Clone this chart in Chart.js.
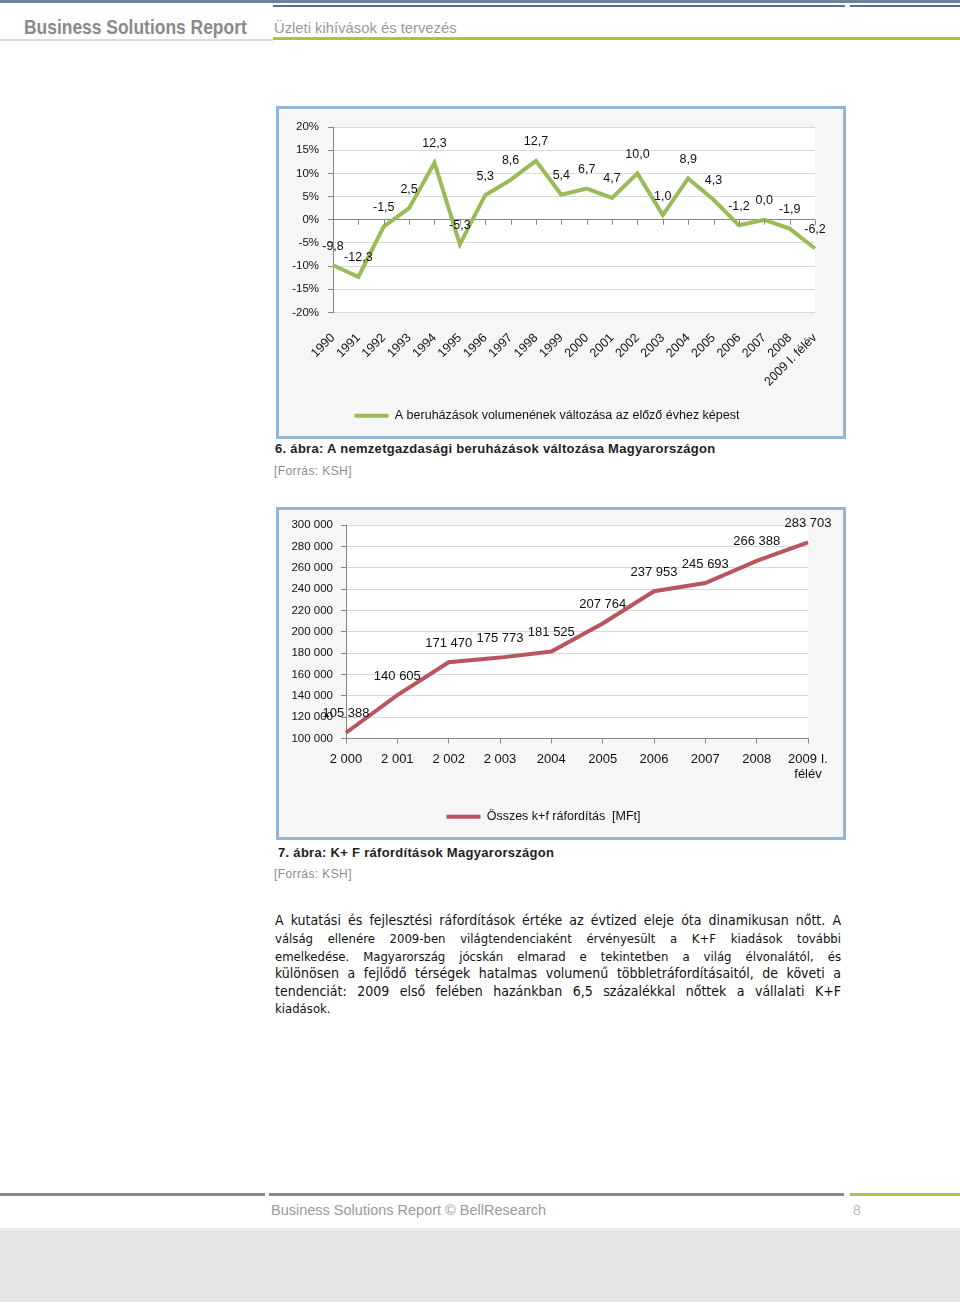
<!DOCTYPE html>
<html lang="hu">
<head>
<meta charset="utf-8">
<script src="https://cdn.jsdelivr.net/npm/chart.js"></script>
<style>
  html, body { margin: 0; padding: 0; }
  body { width: 960px; height: 1302px; position: relative; background: #fff; overflow: hidden;
         font-family: 'Liberation Sans', Arial, sans-serif; }
  .abs { position: absolute; white-space: nowrap; }
  .bar { position: absolute; }
  .box { position: absolute; left: 276px; width: 564px; height: 327px; border: 3px solid #95b5d2; background: #f6f6f6; }
  .box canvas { position: absolute; left: 0; top: 0; }
  .cap { font-weight: bold; font-size: 13px; color: #1e1e1e; letter-spacing: 0.3px; line-height: 18px; }
  .src { font-size: 12px; color: #8c8c8c; letter-spacing: 0.4px; line-height: 16px; }
  .pline { position: absolute; left: 275px; width: 566px; height: 18px; line-height: 18px;
           font-family: 'DejaVu Sans Condensed', 'DejaVu Sans', sans-serif; font-size: 13px; color: #111;
           text-align: justify; text-align-last: justify; white-space: nowrap; }
  .pline.last { text-align-last: left; }
</style>
</head>
<body>

<!-- header -->
<div class="bar" style="left:0;top:0;width:960px;height:3px;background:#6783a0"></div>
<div class="bar" style="left:273px;top:5px;width:572px;height:2px;background:#56728f"></div>
<div class="bar" style="left:850px;top:5px;width:110px;height:2px;background:#56728f"></div>
<div class="abs" style="left:24px;top:14px;font-weight:bold;font-size:21px;line-height:26px;color:#8a8a8a;transform:scaleX(0.83);transform-origin:0 50%">Business Solutions Report</div>
<div class="abs" style="left:274px;top:19px;font-size:14.8px;line-height:18px;color:#9a9a9a">Üzleti kihívások és tervezés</div>
<div class="bar" style="left:0;top:39px;width:273px;height:2px;background:#dcdcdc"></div>
<div class="bar" style="left:273px;top:37px;width:687px;height:3px;background:#a9c24e"></div>

<!-- chart 1 -->
<div class="box" style="top:106px"><canvas id="investChart" width="564" height="327"></canvas></div>
<div class="abs cap" style="left:275px;top:440px">6. ábra: A nemzetgazdasági beruházások változása Magyarországon</div>
<div class="abs src" style="left:274px;top:463px">[Forrás: KSH]</div>

<!-- chart 2 -->
<div class="box" style="top:507px"><canvas id="rdChart" width="564" height="327"></canvas></div>
<div class="abs cap" style="left:278px;top:844px">7. ábra: K+ F ráfordítások Magyarországon</div>
<div class="abs src" style="left:274px;top:866px">[Forrás: KSH]</div>

<!-- paragraph -->
<div class="pline" style="top:911px;font-size:14px">A kutatási és fejlesztési ráfordítások értéke az évtized eleje óta dinamikusan nőtt. A</div>
<div class="pline" style="top:930px">válság ellenére 2009-ben világtendenciaként érvényesült a K+F kiadások további</div>
<div class="pline" style="top:948px">emelkedése. Magyarország jócskán elmarad e tekintetben a világ élvonalától, és</div>
<div class="pline" style="top:964px;font-size:14px">különösen a fejlődő térségek hatalmas volumenű többletráfordításaitól, de követi a</div>
<div class="pline" style="top:982px;font-size:14px">tendenciát: 2009 első felében hazánkban 6,5 százalékkal nőttek a vállalati K+F</div>
<div class="pline last" style="top:1000px">kiadások.</div>

<!-- footer -->
<div class="bar" style="left:0;top:1193px;width:265px;height:3px;background:#8a8a8a"></div>
<div class="bar" style="left:269px;top:1193px;width:575px;height:3px;background:#8a8a8a"></div>
<div class="bar" style="left:850px;top:1193px;width:110px;height:3px;background:#a9c24e"></div>
<div class="abs" style="left:271px;top:1201px;font-size:14.5px;line-height:18px;color:#9a9a9a">Business Solutions Report © BellResearch</div>
<div class="abs" style="left:853px;top:1201px;font-size:14px;line-height:18px;color:#bcbcbc">8</div>
<div class="bar" style="left:0;top:1228px;width:960px;height:3px;background:#ececec"></div>
<div class="bar" style="left:0;top:1231px;width:960px;height:71px;background:#e4e4e4"></div>

<script>
// --- chart 1: beruházások volumenének változása (%)
const investYears = ['1990','1991','1992','1993','1994','1995','1996','1997','1998','1999',
                     '2000','2001','2002','2003','2004','2005','2006','2007','2008','2009 I. félév'];
const investChange = [-9.8, -12.3, -1.5, 2.5, 12.3, -5.3, 5.3, 8.6, 12.7, 5.4,
                      6.7, 4.7, 10.0, 1.0, 8.9, 4.3, -1.2, 0.0, -1.9, -6.2];
const investLegend = 'A beruházások volumenének változása az előző évhez képest';

// --- chart 2: összes k+f ráfordítás (MFt)
const rdYears = ['2 000','2 001','2 002','2 003','2004','2005','2006','2007','2008',['2009 I.','félév']];
const rdSpend = [105388, 140605, 171470, 175773, 181525, 207764, 237953, 245693, 266388, 283703];
const rdLegend = 'Összes k+f ráfordítás  [MFt]';

const chartFont = "'Liberation Sans', Arial, sans-serif";
const gridColor = '#d9d9d9';
const axisColor = '#868686';

Chart.defaults.font.family = chartFont;
Chart.defaults.color = '#222';

const fmtPct = v => v.toFixed(1).replace('.', ',');
const fmtThousands = v => String(Math.round(v)).replace(/\B(?=(\d{3})+(?!\d))/g, ' ');

const plotBg = {
  id: 'plotBg',
  beforeDraw(chart) {
    const a = chart.chartArea, c = chart.ctx;
    c.save();
    c.fillStyle = '#fff';
    c.fillRect(a.left, a.top, a.right - a.left, a.bottom - a.top);
    c.restore();
  }
};

const valueLabels = {
  id: 'valueLabels',
  afterDatasetsDraw(chart, args, opts) {
    const c = chart.ctx;
    const meta = chart.getDatasetMeta(0);
    const data = chart.data.datasets[0].data;
    c.save();
    c.font = opts.size + 'px ' + chartFont;
    c.fillStyle = '#111';
    c.textAlign = 'center';
    c.textBaseline = 'middle';
    meta.data.forEach((pt, i) => c.fillText(opts.fmt(data[i]), pt.x, pt.y - opts.lift));
    c.restore();
  }
};

// tick marks hanging under the 0% line
const zeroTicks = {
  id: 'zeroTicks',
  afterDatasetsDraw(chart) {
    const y0 = chart.scales.y.getPixelForValue(0);
    const x = chart.scales.x;
    const c = chart.ctx;
    c.save();
    c.strokeStyle = axisColor;
    c.lineWidth = 1;
    c.beginPath();
    for (let i = 0; i < investYears.length; i++) {
      const px = Math.round(x.getPixelForValue(i)) + 0.5;
      c.moveTo(px, y0);
      c.lineTo(px, y0 + 5);
    }
    c.stroke();
    c.restore();
  }
};

const legendOpts = (size) => ({
  position: 'bottom',
  labels: {
    usePointStyle: true,
    pointStyle: 'line',
    pointStyleWidth: 34,
    padding: 10,
    color: '#111',
    font: { size }
  }
});

new Chart(document.getElementById('investChart'), {
  type: 'line',
  data: {
    labels: investYears,
    datasets: [{
      label: investLegend,
      data: investChange,
      borderColor: '#9bbb59',
      backgroundColor: '#9bbb59',
      borderWidth: 4,
      pointRadius: 0,
      tension: 0
    }]
  },
  options: {
    responsive: false,
    animation: false,
    layout: { padding: { left: 0, right: 28, top: 18, bottom: 4 } },
    scales: {
      x: {
        offset: false,
        grid: { display: false },
        border: { display: false },
        ticks: { minRotation: 45, maxRotation: 45, padding: 10, autoSkip: false, color: '#111', font: { size: 12.5 } },
        afterFit: s => { s.height = 87; }
      },
      y: {
        min: -20, max: 20,
        grid: {
          color: c => c.tick && c.tick.value === 0 ? axisColor : gridColor,
          tickLength: 5, tickColor: axisColor
        },
        border: { color: axisColor },
        ticks: { stepSize: 5, padding: 9, color: '#111', font: { size: 11.5 }, callback: v => v + '%' },
        afterFit: s => { s.width = 54; }
      }
    },
    plugins: {
      legend: legendOpts(12.5),
      tooltip: { enabled: false },
      valueLabels: { size: 12.5, lift: 19, fmt: fmtPct }
    }
  },
  plugins: [plotBg, valueLabels, zeroTicks]
});

new Chart(document.getElementById('rdChart'), {
  type: 'line',
  data: {
    labels: rdYears,
    datasets: [{
      label: rdLegend,
      data: rdSpend,
      borderColor: '#b9555f',
      backgroundColor: '#b9555f',
      borderWidth: 4,
      pointRadius: 0,
      tension: 0
    }]
  },
  options: {
    responsive: false,
    animation: false,
    layout: { padding: { left: 0, right: 35, top: 15, bottom: 4 } },
    scales: {
      x: {
        offset: false,
        grid: { drawOnChartArea: false, tickLength: 5, color: axisColor },
        border: { color: axisColor },
        ticks: { maxRotation: 0, padding: 8, autoSkip: false, color: '#111', font: { size: 13 } },
        afterFit: s => { s.height = 62; }
      },
      y: {
        min: 100000, max: 300000,
        grid: { color: gridColor, tickLength: 5, tickColor: axisColor },
        border: { color: axisColor },
        ticks: { stepSize: 20000, padding: 8, color: '#111', font: { size: 11.5 }, callback: v => fmtThousands(v) },
        afterFit: s => { s.width = 67; }
      }
    },
    plugins: {
      legend: legendOpts(12.5),
      tooltip: { enabled: false },
      valueLabels: { size: 13, lift: 19, fmt: fmtThousands }
    }
  },
  plugins: [plotBg, valueLabels]
});
</script>
</body>
</html>
